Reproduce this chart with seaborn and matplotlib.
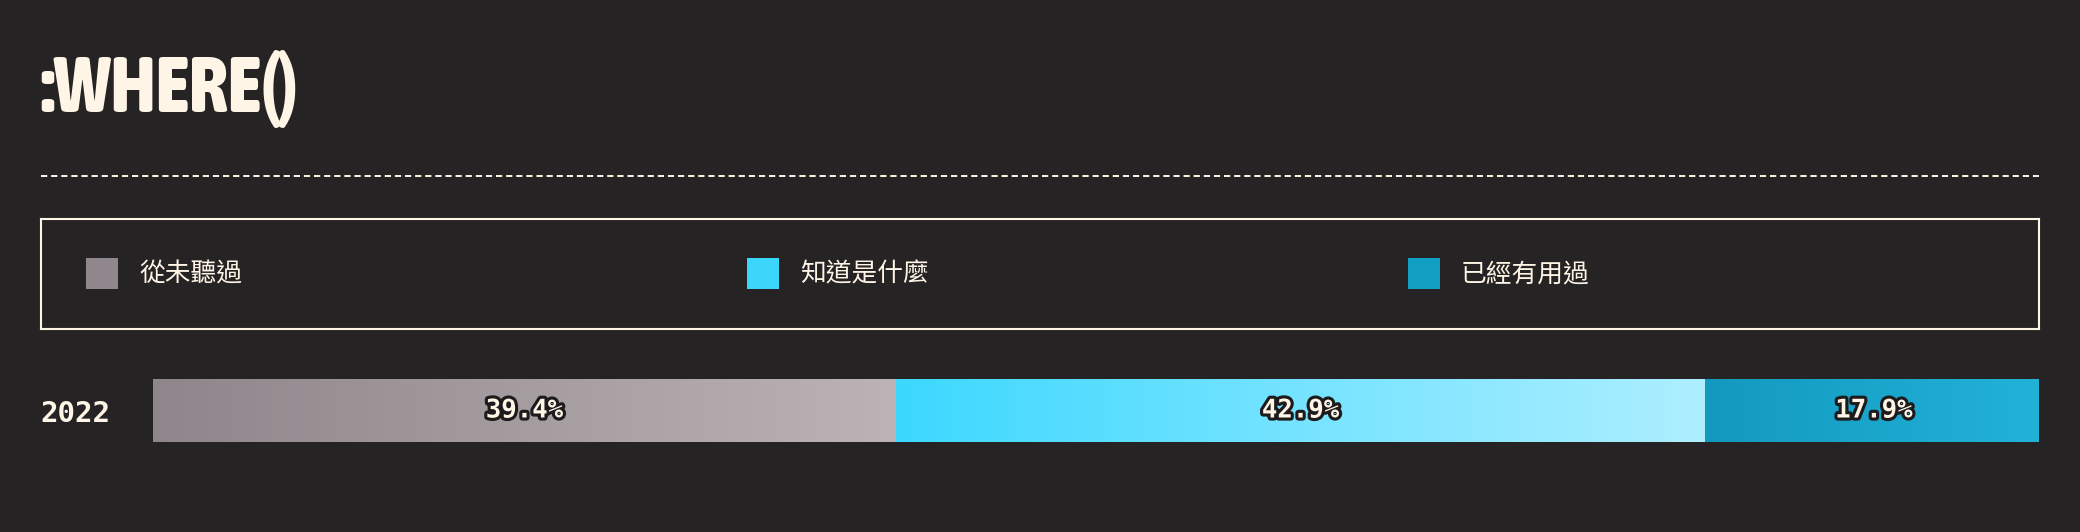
import numpy as np
import pandas as pd
import matplotlib
matplotlib.use("Agg")
import matplotlib.pyplot as plt
import matplotlib.patheffects as pe
from matplotlib import font_manager
from matplotlib.font_manager import FontProperties
from matplotlib.colors import LinearSegmentedColormap
from matplotlib.lines import Line2D
from matplotlib.patches import Rectangle
import seaborn as sns

# ---- data ----
title = ":WHERE()"
years = ["2022"]
categories = ["從未聽過", "知道是什麼", "已經有用過"]
values = [39.4, 42.9, 17.9]
swatch_colors = ["#8f878c", "#3dd6fb", "#119fc4"]
grad_start = ["#8f868b", "#3dd8ff", "#1399c0"]
grad_end = ["#bcb3b6", "#aeefff", "#22b2d8"]

BG = "#262324"
CREAM = "#fff5e6"

sns.set_theme(style="white")
plt.rcParams["font.family"] = ["Noto Sans CJK TC", "DejaVu Sans"]


def condensed_title_font():
    # look for a narrow/condensed bold face among the installed fonts
    best = None
    for f in font_manager.fontManager.ttflist:
        fn = f.fname.lower()
        narrow = ("narrow" in fn or "condensed" in fn or
                  str(f.stretch) in ("condensed", "semi-condensed", "extra-condensed"))
        bold = "bold" in fn or (isinstance(f.weight, int) and f.weight >= 600) or f.weight == "bold"
        if narrow and bold and "oblique" not in fn and "italic" not in fn:
            best = f.fname
            if "narrow" in fn or "extra" in fn:
                break
    if best:
        return FontProperties(fname=best, size=56)
    return FontProperties(family="DejaVu Sans", weight="bold", size=40)


title_fp = condensed_title_font()

W, H = 2080, 532
fig = plt.figure(figsize=(W / 100, H / 100), dpi=100, facecolor=BG)


def fig_rect(x0, y0, x1, y1):
    # pixel box (top-left origin) -> figure fraction rect
    return [x0 / W, 1 - y1 / H, (x1 - x0) / W, (y1 - y0) / H]


# title
fig.text(40 / W, 1 - 112 / H, title, fontproperties=title_fp,
         color=CREAM, ha="left", va="baseline")

# dashed separator
fig.add_artist(Line2D([41 / W, 2039 / W], [1 - 176 / H, 1 - 176 / H],
                      transform=fig.transFigure, color=CREAM, lw=1.4,
                      linestyle=(0, (3.2, 2.0))))

# legend box
lax = fig.add_axes(fig_rect(41, 219, 2039, 329))
lax.set_facecolor(BG)
lax.set_xlim(0, 1998)
lax.set_ylim(110, 0)
lax.set_xticks([])
lax.set_yticks([])
for s in lax.spines.values():
    s.set_color(CREAM)
    s.set_linewidth(1.5)
for i, (cat, col) in enumerate(zip(categories, swatch_colors)):
    x0 = 45 + i * 661
    lax.add_patch(Rectangle((x0, 39), 32, 31, color=col, lw=0))
    lax.text(x0 + 53, 55, cat, color=CREAM, fontsize=18.5, va="center", ha="left")

# stacked bar
df = pd.DataFrame({"year": years * len(categories),
                   "category": categories,
                   "value": values})
df["end"] = df["value"].cumsum()
df["start"] = df["end"] - df["value"]

ax = fig.add_axes(fig_rect(153, 379, 2039, 442))
ax.set_facecolor(BG)
sns.barplot(data=df, x="end", y="year", hue="category",
            hue_order=categories[::-1], palette=dict(zip(categories, swatch_colors)),
            dodge=False, width=0.8, orient="h", legend=False, ax=ax, zorder=1)

grad = np.linspace(0, 1, 256).reshape(1, -1)
for i, row in df.iterrows():
    cmap = LinearSegmentedColormap.from_list(f"g{i}", [grad_start[i], grad_end[i]])
    ax.imshow(grad, cmap=cmap, aspect="auto", zorder=2,
              extent=[row["start"], row["end"], 0.4, -0.4])
    ax.text((row["start"] + row["end"]) / 2, 0, f"{row['value']:.1f}%",
            ha="center", va="center", fontsize=18.5, fontweight="bold",
            family="DejaVu Sans Mono", color=CREAM, zorder=3,
            path_effects=[pe.Stroke(linewidth=4.5, foreground="#1e1b1c"), pe.Normal()])
ax.set_xlim(0, 100)
ax.set_ylim(0.4, -0.4)

ax.set_xlabel("")
ax.set_ylabel("")
ax.set_xticks([])
ax.set_yticks([0])
ax.set_yticklabels(years, family="DejaVu Sans Mono", fontweight="bold",
                   fontsize=21, color=CREAM)
ax.tick_params(axis="y", length=0, pad=31)
for s in ax.spines.values():
    s.set_visible(False)

fig.savefig("out.png", dpi=100, facecolor=BG)
